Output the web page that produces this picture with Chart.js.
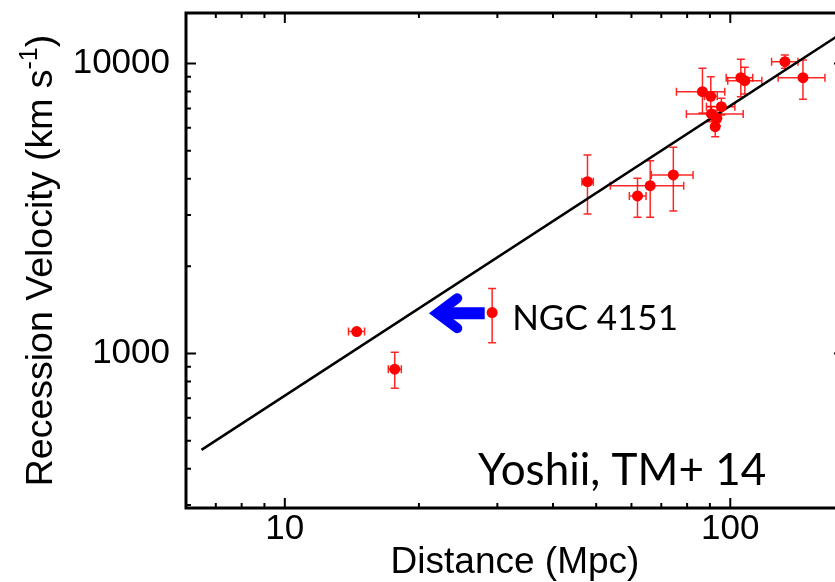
<!DOCTYPE html>
<html>
<head>
<meta charset="utf-8">
<script src="https://cdn.jsdelivr.net/npm/chart.js@4.4.1/dist/chart.umd.min.js"></script>
<style>
  html, body { margin: 0; padding: 0; background: #fff; overflow: hidden; }
</style>
</head>
<body>
<canvas id="hubble" width="850" height="582"></canvas>
<script>
// 距離 (Mpc) と後退速度 (km/s) -- 図から読み取った値
var distance = [14.5, 17.65, 29.2, 47.8, 61.9, 66.1, 74.5, 86.6, 90.4, 95.5, 90.7, 93.3, 92.5, 105.6, 107.8, 132.6, 145.6];
var velocity = [1189, 882, 1383, 3912, 3493, 3790, 4126, 7993, 7706, 7096, 6700, 6471, 6054, 8933, 8725, 10143, 8933];
// 誤差棒 (null = なし)
var distLo = [13.9, 17.07, null, 46.45, 59.35, 53.8, 66.5, 75.7, 87.5, 88.4, 79.7, null, null, 97.9, 98.7, 123.8, 128.1];
var distHi = [15.1, 18.26, null, 49.26, 64.7, 78.6, 82.5, 97.2, 93.5, 102.4, 106.9, null, null, 112.3, 117.7, 141.9, 163.1];
var velLo = [null, 759, 1089, 3027, 2949, 2949, 3101, 6751, 6400, 6644, 6300, 6100, 5593, 7682, 7849, 9625, 7527];
var velHi = [null, 1010, 1673, 4836, 4019, 4622, 5140, 9625, 9006, 7586, 7100, 6900, 6500, 10340, 9704, 10700, 10280];

// ハッブル則の直線
var fitD = [6.5, 180];
var fitV = [465, 12870];

// 軸の範囲と目盛り
var xRange = [6, 180];
var yRange = [293, 14930];
var xTickLabels = [10, 100];
var yTickLabels = [1000, 10000];

// 注釈
var ngcIndex = 2;
var arrowTip = [21.1, 1377];
var arrowTail = [28.1, 1377];

var points = distance.map(function (d, i) {
  return { x: d, y: velocity[i], xMin: distLo[i], xMax: distHi[i], yMin: velLo[i], yMax: velHi[i] };
});
var fitLine = fitD.map(function (d, i) { return { x: d, y: fitV[i] }; });

var axisFont = "'Liberation Sans', Arial, Helvetica, sans-serif";
var noteFont = "Lato, 'Open Sans', sans-serif";

var errorBars = {
  id: 'errorBars',
  beforeDatasetsDraw: function (chart) {
    var ctx = chart.ctx, xs = chart.scales.x, ys = chart.scales.y;
    var cap = 4;
    ctx.save();
    ctx.strokeStyle = 'rgba(255,0,0,0.85)';
    ctx.lineWidth = 1.5;
    chart.data.datasets[1].data.forEach(function (p) {
      var px = xs.getPixelForValue(p.x), py = ys.getPixelForValue(p.y);
      ctx.beginPath();
      if (p.xMin != null) {
        var x1 = xs.getPixelForValue(p.xMin), x2 = xs.getPixelForValue(p.xMax);
        ctx.moveTo(x1, py); ctx.lineTo(x2, py);
        ctx.moveTo(x1, py - cap); ctx.lineTo(x1, py + cap);
        ctx.moveTo(x2, py - cap); ctx.lineTo(x2, py + cap);
      }
      if (p.yMin != null) {
        var y1 = ys.getPixelForValue(p.yMin), y2 = ys.getPixelForValue(p.yMax);
        ctx.moveTo(px, y1); ctx.lineTo(px, y2);
        ctx.moveTo(px - cap, y1); ctx.lineTo(px + cap, y1);
        ctx.moveTo(px - cap, y2); ctx.lineTo(px + cap, y2);
      }
      ctx.stroke();
    });
    ctx.restore();
  }
};

var frameAndNotes = {
  id: 'frameAndNotes',
  afterDraw: function (chart) {
    var ctx = chart.ctx, a = chart.chartArea, xs = chart.scales.x, ys = chart.scales.y;
    ctx.save();
    // 枠
    ctx.strokeStyle = '#000';
    ctx.lineWidth = 3;
    ctx.strokeRect(a.left, a.top, a.right - a.left, a.bottom - a.top);
    // 内向きの目盛り
    ctx.lineWidth = 2;
    ctx.beginPath();
    for (var e = 0; e <= 4; e++) {
      for (var m = 1; m < 10; m++) {
        var v = m * Math.pow(10, e);
        var len = m === 1 ? 10 : 5;
        if (v >= xRange[0] && v <= xRange[1]) {
          var px = xs.getPixelForValue(v);
          ctx.moveTo(px, a.bottom); ctx.lineTo(px, a.bottom - len);
          ctx.moveTo(px, a.top); ctx.lineTo(px, a.top + len);
        }
        if (v >= yRange[0] && v <= yRange[1]) {
          var py = ys.getPixelForValue(v);
          ctx.moveTo(a.left, py); ctx.lineTo(a.left + len, py);
          ctx.moveTo(a.right, py); ctx.lineTo(a.right - len, py);
        }
      }
    }
    ctx.stroke();

    // 軸タイトル
    ctx.fillStyle = '#000';
    ctx.textBaseline = 'alphabetic';
    ctx.textAlign = 'center';
    ctx.font = '37px ' + axisFont;
    ctx.fillText('Distance (Mpc)', (a.left + a.right) / 2, 573);

    ctx.save();
    ctx.translate(52, (a.top + a.bottom) / 2);
    ctx.rotate(-Math.PI / 2);
    ctx.textAlign = 'left';
    var big = '37.5px ' + axisFont, small = '25px ' + axisFont;
    ctx.font = big;
    var w1 = ctx.measureText('Recession Velocity (km s').width;
    var w3 = ctx.measureText(')').width;
    ctx.font = small;
    var w2 = ctx.measureText('-1').width;
    var x0 = -(w1 + w2 + w3) / 2;
    ctx.font = big;
    ctx.fillText('Recession Velocity (km s', x0, 0);
    ctx.font = small;
    ctx.fillText('-1', x0 + w1, -15);
    ctx.font = big;
    ctx.fillText(')', x0 + w1 + w2, 0);
    ctx.restore();

    // NGC 4151 のラベル
    var nx = xs.getPixelForValue(distance[ngcIndex]);
    var ny = ys.getPixelForValue(velocity[ngcIndex]);
    ctx.font = '35px ' + noteFont;
    ctx.textAlign = 'left';
    ctx.fillText('NGC 4151', nx + 20, ny + 17);

    // 青い矢印
    var tx = xs.getPixelForValue(arrowTip[0]), ty = ys.getPixelForValue(arrowTip[1]);
    var sx = xs.getPixelForValue(arrowTail[0]);
    ctx.strokeStyle = '#0000ff';
    ctx.lineWidth = 12;
    ctx.lineCap = 'butt';
    ctx.beginPath();
    ctx.moveTo(sx, ty); ctx.lineTo(tx + 10, ty);
    ctx.stroke();
    ctx.lineWidth = 10;
    ctx.lineCap = 'round';
    ctx.lineJoin = 'miter';
    ctx.miterLimit = 10;
    ctx.beginPath();
    ctx.moveTo(tx + 28, ty - 15);
    ctx.lineTo(tx + 8, ty);
    ctx.lineTo(tx + 28, ty + 15);
    ctx.stroke();

    // 出典
    ctx.fillStyle = '#000';
    ctx.font = '44px ' + noteFont;
    ctx.textAlign = 'left';
    ctx.fillText('Yoshii, TM+ 14', 478, 485);
    ctx.restore();
  }
};

var ctx = document.getElementById('hubble').getContext('2d');
var hubbleChart = new Chart(ctx, {
  type: 'scatter',
  data: {
    datasets: [
      {
        type: 'line',
        data: fitLine,
        borderColor: '#000',
        borderWidth: 2.5,
        pointRadius: 0,
        order: 2
      },
      {
        data: points,
        backgroundColor: '#ff0000',
        pointRadius: 5.5,
        borderWidth: 0,
        order: 1
      }
    ]
  },
  options: {
    responsive: false,
    animation: false,
    layout: { padding: { top: 13, right: 6, left: 0, bottom: 0 } },
    plugins: { legend: { display: false }, tooltip: { enabled: false } },
    scales: {
      x: {
        type: 'logarithmic',
        min: xRange[0],
        max: xRange[1],
        afterBuildTicks: function (s) { s.ticks = xTickLabels.map(function (v) { return { value: v }; }); },
        afterFit: function (s) { s.height = 74; s.paddingLeft = 0; s.paddingRight = 0; },
        grid: { display: false, drawTicks: false },
        border: { display: false },
        ticks: {
          color: '#000',
          maxRotation: 0,
          padding: 0,
          font: { family: axisFont, size: 35 },
          callback: function (v) { return String(v); }
        }
      },
      y: {
        type: 'logarithmic',
        min: yRange[0],
        max: yRange[1],
        afterBuildTicks: function (s) { s.ticks = yTickLabels.map(function (v) { return { value: v }; }); },
        afterFit: function (s) { s.width = 186; s.paddingTop = 0; s.paddingBottom = 0; },
        grid: { display: false, drawTicks: false },
        border: { display: false },
        ticks: {
          color: '#000',
          padding: 16,
          font: { family: axisFont, size: 35 },
          callback: function (v) { return String(v); }
        }
      }
    }
  },
  plugins: [errorBars, frameAndNotes]
});
</script>
</body>
</html>
